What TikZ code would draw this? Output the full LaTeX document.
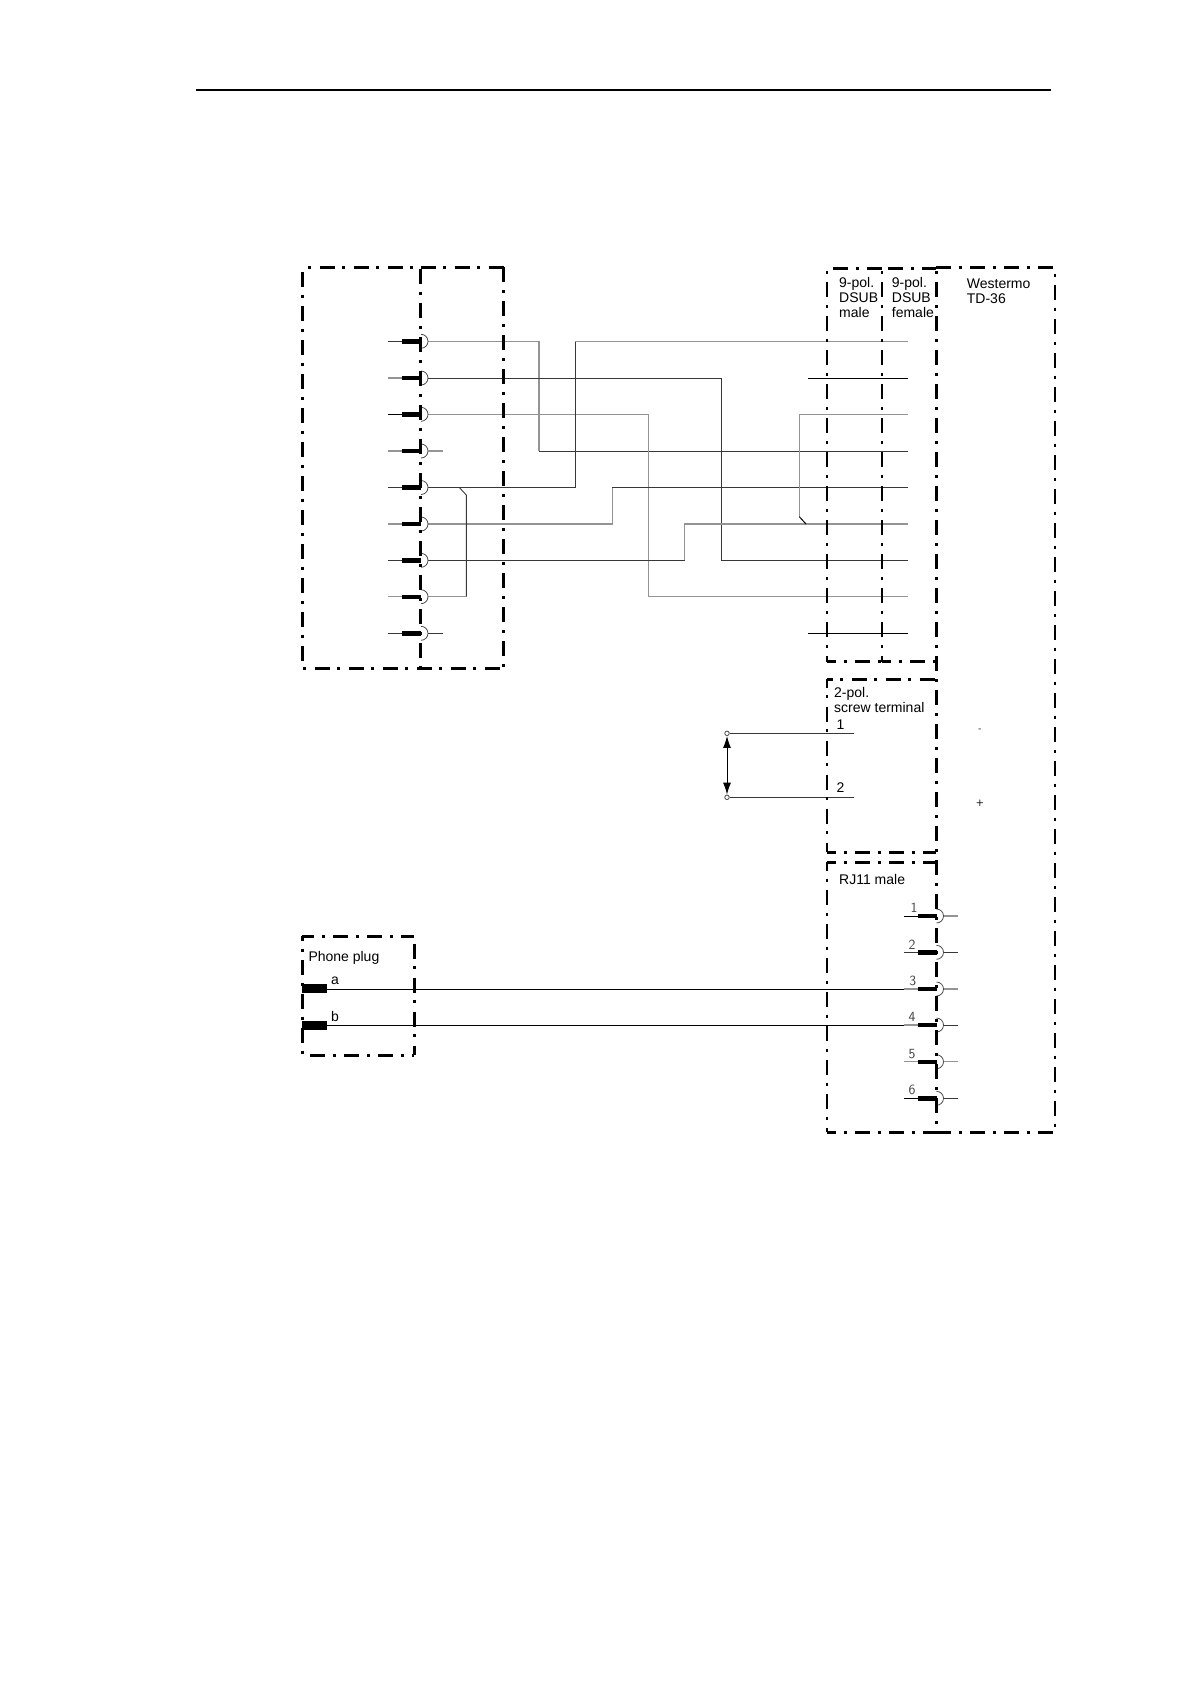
\documentclass[tikz,border=0pt]{standalone}
\usepackage{fontspec}
\setmainfont{Liberation Sans}
\usetikzlibrary{arrows.meta,calc}
\tikzset{>={Latex[length=12pt,width=8pt]}}
\tikzstyle{wirel}=[black!42,line width=1.1pt]
\tikzstyle{wired}=[black!78,line width=0.9pt]
\tikzstyle{wirek}=[black,line width=1pt]
\tikzstyle{pinbar}=[black,line width=4.4pt]
\tikzstyle{bolddash}=[black,line width=3pt,dash pattern=on 15pt off 7.5pt on 3pt off 8.5pt]
\tikzstyle{thindash}=[black,line width=2pt,dash pattern=on 15pt off 7.5pt on 3pt off 8.5pt]
\tikzstyle{lbl}=[anchor=base west,inner sep=0pt,align=left,font=\fontsize{14}{15}\selectfont]
\tikzstyle{pinno}=[inner sep=0pt,text=black!75,font=\sffamily\fontsize{14}{14}\selectfont]
\tikzstyle{polar}=[inner sep=0pt,font=\sffamily\bfseries\fontsize{9}{9}\selectfont]
\tikzstyle{term}=[circle,draw=black!70,fill=white,line width=0.8pt,inner sep=0pt,minimum size=4.5pt]

\begin{document}
\begin{tikzpicture}[x=1pt,y=-1pt]
	\useasboundingbox (0,0) rectangle (1190,1684);
	% header line
	\coordinate (headl) at (196,90);
	\coordinate (headr) at (1051,90);
	\draw[black,line width=2pt] (headl) -- (headr);

	% rows of the 9 pin cable
	\foreach \i/\y in {1/341.3,2/378,3/414.3,4/451,5/487.5,6/524,7/560.3,8/596.7,9/633.3}{
		\coordinate (lp\i) at (427.7,\y);
		\coordinate (rp\i) at (908,\y);
		\coordinate (rs\i) at (808,\y);
	}
	\coordinate (vb1) at (539,0);
	\coordinate (vb2) at (575.3,0);
	\coordinate (vb3) at (612.3,0);
	\coordinate (vb4) at (648.3,0);
	\coordinate (vb5) at (684.7,0);
	\coordinate (vb6) at (721.3,0);
	\coordinate (tap1) at (459.3,487.5);
	\coordinate (tap2) at (466.3,495);
	\coordinate (ret1) at (799.3,516.7);
	\coordinate (ret2) at (806,524);

	\draw[wirel] (lp1) -| (vb1 |- rp4);
	\draw[wired] (vb1 |- rp4) -- (rp4);
	\draw[wired] (lp2) -| (vb6 |- rp7) -- (rp7);
	\draw[wirel] (lp3) -| (vb4 |- rp8) -- (rp8);
	\draw[wired] (lp5) -| (vb2 |- rp1);
	\draw[wirel] (vb2 |- rp1) -- (rp1);
	\draw[wirel] (lp6) -| (vb3 |- rp5);
	\draw[wired] (vb3 |- rp5) -- (rp5);
	\draw[wired] (lp7) -- (vb5 |- lp7);
	\draw[wirel] (vb5 |- lp7) |- (rp6);
	\draw[wired] (tap1) -- (tap2) -- (tap2 |- lp8);
	\draw[wirel] (lp8) -- (tap2 |- lp8);
	\draw[wirel] (rp3) -| (ret1);
	\draw[wirek] (ret1) -- (ret2);
	\draw[wirek] (rs2) -- (rp2);
	\draw[wirek] (rs9) -- (rp9);

	% left plug
	\foreach \i/\y/\c in {1/341.3/wired,2/378/wirel,3/414.3/wirek,4/451/wirel,5/487.5/wired,6/524/wirel,7/560.3/wired,8/596.7/wirel,9/633.3/wired}{
		\coordinate (lc\i) at (421,\y);
		\coordinate (ls\i) at (388,\y);
		\coordinate (lb\i) at (402,\y);
		\draw[\c] (ls\i) -- (lb\i);
		\draw[pinbar] (lb\i) -- (lc\i);
		\draw[black!70,line width=0.8pt] ($(lc\i)+(0,-7)$) arc [start angle=-90,end angle=90,radius=7];
	}
	\coordinate (le4) at (442.7,451);
	\coordinate (le9) at (442.7,633.3);
	\draw[wirel] (lp4) -- (le4);
	\draw[wired] (lp9) -- (le9);

	% RJ11 plug
	\foreach \i/\y/\c/\e/\t in {1/916/wirek/wirel/914,2/952.3/wired/wired/912,3/989/wirel/wirel/912.7,4/1025/wirel/wired/912,5/1061.7/wirel/wirel/912,6/1098.3/wirek/wired/912}{
		\coordinate (jc\i) at (936.5,\y);
		\coordinate (js\i) at (904,\y);
		\coordinate (jb\i) at (918,\y);
		\coordinate (je\i) at (958.3,\y);
		\coordinate (ja\i) at (943.5,\y);
		\draw[\c] (js\i) -- (jb\i);
		\draw[pinbar] (jb\i) -- (jc\i);
		\draw[black!70,line width=0.8pt] ($(jc\i)+(0,-7)$) arc [start angle=-90,end angle=90,radius=7];
		\draw[\e] (ja\i) -- (je\i);
		\node[pinno] (jn\i) at (\t,\y-8) {\i};
	}

	% phone plug
	\coordinate (pa) at (302,988);
	\coordinate (pb) at (302,1025);
	\coordinate (pa2) at (327,988);
	\coordinate (pb2) at (327,1025);
	\coordinate (pw) at (327,989);
	\draw[black,line width=9pt] (pa) -- (pa2);
	\draw[black,line width=9pt] (pb) -- (pb2);
	\draw[wirek] (pw) -- (js3);
	\draw[wirek] (pb2) -- (js4);

	% screw terminal
	\node[term] (sw1) at (727,733.3) {};
	\node[term] (sw2) at (727,797.3) {};
	\coordinate (se1) at (854.3,733.3);
	\coordinate (se2) at (854.3,797.3);
	\draw[wired] (sw1) -- (se1);
	\draw[wired] (sw2) -- (se2);
	\draw[<->,black,line width=1pt] (sw1) -- (sw2);

	% frames, each side with its own dash phase
	\draw[bolddash,dash phase=17pt] (302.5,267.3) -- (420.5,267.3);
	\draw[bolddash,dash phase=0pt] (420.5,267.3) -- (503.5,267.3);
	\draw[bolddash,dash phase=29pt] (302.5,267.3) -- (302.5,668.3);
	\draw[bolddash,dash phase=32pt] (420.5,267.3) -- (420.5,668.3);
	\draw[bolddash,dash phase=0pt] (503.5,267.3) -- (503.5,668.3);
	\draw[bolddash,dash phase=21.7pt] (302.5,668.3) -- (503.5,668.3);

	\draw[bolddash,dash phase=28pt] (827,268.3) -- (882,268.3);
	\draw[bolddash,dash phase=28pt] (882,268.3) -- (936.3,268.3);
	\draw[bolddash,dash phase=0pt] (936.3,267) -- (1055,267);
	\draw[thindash,dash phase=20pt] (827,268.3) -- (827,661.7);
	\draw[thindash,dash phase=20pt] (882,268.3) -- (882,661.7);
	\draw[bolddash,dash phase=20pt] (936.3,268.3) -- (936.3,1132.3);
	\draw[thindash,dash phase=16pt] (1055,267) -- (1055,1132.3);
	\draw[bolddash,dash phase=6pt] (827,661.7) -- (882,661.7);
	\draw[bolddash,dash phase=6pt] (882,661.7) -- (936.3,661.7);

	\draw[bolddash,dash phase=9.3pt] (827,679) -- (936.3,679);
	\draw[thindash,dash phase=6.3pt] (827,679) -- (827,852);
	\draw[bolddash,dash phase=6pt] (827,852) -- (936.3,852);

	\draw[bolddash,dash phase=6pt] (827,862) -- (936.3,862);
	\draw[thindash,dash phase=6pt] (827,862) -- (827,1132.3);
	\draw[bolddash,dash phase=6pt] (827,1132.3) -- (936.3,1132.3);
	\draw[bolddash,dash phase=0pt] (936.3,1132.3) -- (1055,1132.3);

	\draw[bolddash,dash phase=3pt] (302.3,936) -- (414,936);
	\draw[bolddash,dash phase=10pt] (302.3,936) -- (302.3,1055);
	\draw[bolddash,dash phase=26.5pt] (414,936) -- (414,1055);
	\draw[bolddash,dash phase=26pt] (302.3,1055) -- (414,1055);

	% labels
	\node[lbl] (dsubm) at (839,317.7) {9-pol.\\DSUB\\male};
	\node[lbl] (dsubf) at (891.7,317.7) {9-pol.\\DSUB\\female};
	\node[lbl] (modem) at (966.7,303.7) {Westermo\\TD-36};
	\node[lbl] (screw) at (834,712.5) {2-pol.\\screw terminal};
	\node[lbl] (sc1) at (836.5,729) {1};
	\node[lbl] (sc2) at (836.5,792.7) {2};
	\node[lbl] (rj) at (839,884) {RJ11 male};
	\node[lbl] (phone) at (308.3,961) {Phone plug};
	\node[lbl] (la) at (331,984) {a};
	\node[lbl] (lb) at (331,1021.5) {b};
	\node[polar] (minus) at (980,730.3) {-};
	\node[polar] (plus) at (980,803.3) {+};
\end{tikzpicture}
\end{document}
